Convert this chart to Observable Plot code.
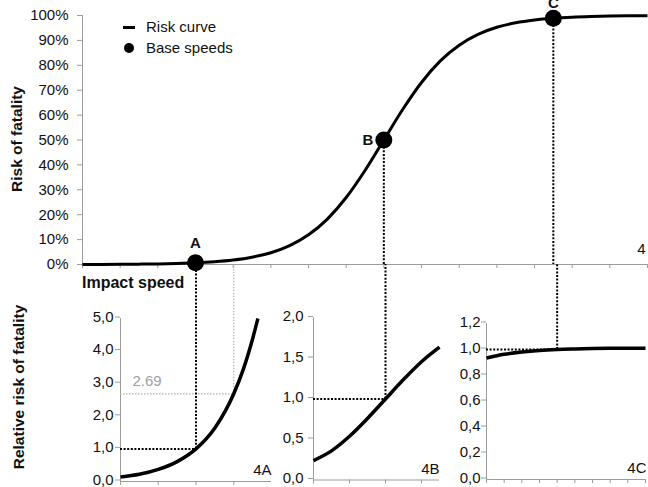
<!DOCTYPE html>
<html><head><meta charset="utf-8">
<script src="https://cdn.jsdelivr.net/npm/d3@7"></script>
<script src="https://cdn.jsdelivr.net/npm/@observablehq/plot@0.6"></script>
<style>
body{margin:0;background:#fff;font-family:"Liberation Sans",Arial,sans-serif;}
#wrap{position:relative;width:648px;height:487px;overflow:hidden;background:#fff;}
.lbl{position:absolute;white-space:nowrap;color:#111;line-height:18px;height:18px;}
.rot{position:absolute;white-space:nowrap;color:#111;font-weight:bold;transform:translate(-50%,-50%) rotate(-90deg);}
</style></head><body>
<div id="wrap"></div>
<script>
// ---- Top panel: risk curve ----
const speeds = [0,5,10,15,20,25,30,35,40,45,50,55,60,65,70,75,80,85,90,95,100,105,110,115,120,125,130,135,140,145,150];
const risk = [0.03,0.05,0.09,0.15,0.25,0.41,0.67,1.10,1.80,2.93,4.74,7.59,11.92,18.24,26.89,37.75,50.00,62.25,73.11,81.76,88.08,92.41,95.26,97.07,98.20,98.90,99.33,99.59,99.75,99.85,99.91];
const baseLabels = ["A","B","C"];
const baseSpeeds = [30,80,125];
const baseRisk = [0.67,50.00,98.90];
const topYTicks = [0,10,20,30,40,50,60,70,80,90,100];
const topXTicks = [0,10,20,30,40,50,60,70,80,90,100,110,120,130,140,150];

// ---- Panel 4A ----
const speedsA = [10,15,20,25,30,35,40,42.5,45,46.4];
const relA = [0.14,0.22,0.37,0.61,1.00,1.64,2.69,3.43,4.38,5.00];
const yTicksA = [0,1,2,3,4,5];
const xTicksA = [10,20,30,40];
const compareSpeedA = 40;
const compareRelA = 2.69;

// ---- Panel 4B ----
const speedsB = [60,65,70,75,80,85,90,95];
const relB = [0.24,0.36,0.54,0.76,1.00,1.24,1.46,1.64];
const yTicksB = [0,0.5,1,1.5,2];
const xTicksB = [60,70,80,90];

// ---- Panel 4C ----
const speedsC = [105,110,115,120,125,130,135,140,145,150];
const relC = [0.935,0.963,0.981,0.993,1.000,1.004,1.007,1.009,1.010,1.010];
const yTicksC = [0,0.2,0.4,0.6,0.8,1,1.2];
const xTicksC = [105,110,115,120,125,130,135,140,145,150];

const GREY = "#9c9c9c";
const FONT = '"Liberation Sans", Arial, sans-serif';
const DOT = "2,1.6";

const wrap = document.getElementById("wrap");
function place(svg, left, top) {
  svg.style.position = "absolute";
  svg.style.left = left + "px";
  svg.style.top = top + "px";
  svg.style.maxWidth = "none";
  wrap.appendChild(svg);
}

const topData = speeds.map((v, i) => ({v, r: risk[i]}));
const base = baseSpeeds.map((v, i) => ({v, r: baseRisk[i], label: baseLabels[i]}));

const topPlot = Plot.plot({
  width: 648, height: 272,
  marginLeft: 82, marginRight: 1, marginTop: 15, marginBottom: 8,
  x: {domain: [0, 150]},
  y: {domain: [0, 100]},
  style: {fontFamily: FONT, fontSize: "15px", background: "transparent", color: "#111", overflow: "visible"},
  marks: [
    Plot.axisY({ticks: topYTicks, tickFormat: d => d + "%", tickSize: 5, tickPadding: 9, stroke: GREY, fill: "#111", label: null, fontSize: 15}),
    Plot.axisX({ticks: topXTicks, tickSize: 4, tickFormat: () => "", stroke: GREY, label: null}),
    Plot.ruleX([0], {stroke: GREY}),
    Plot.ruleY([0], {stroke: GREY}),
    Plot.ruleX(base, {x: "v", y1: "r", y2: 0, stroke: "#000", strokeWidth: 2, strokeDasharray: DOT}),
    Plot.line(topData, {x: "v", y: "r", stroke: "#000", strokeWidth: 3, curve: "monotone-x", strokeLinecap: "butt"}),
    Plot.dot(base, {x: "v", y: "r", r: 8.5, fill: "#000"}),
    Plot.text(base.filter(d => d.label === "A"), {x: "v", y: "r", text: "label", dy: -20, fontWeight: "bold", fontSize: 15, fill: "#111"}),
    Plot.text(base.filter(d => d.label === "B"), {x: "v", y: "r", text: "label", dx: -16, fontWeight: "bold", fontSize: 15, fill: "#111"}),
    Plot.text(base.filter(d => d.label === "C"), {x: "v", y: "r", text: "label", dy: -15, fontWeight: "bold", fontSize: 15, fill: "#111"}),
    Plot.text(["4"], {text: d => d, frameAnchor: "bottom-right", lineAnchor: "middle", textAnchor: "end", dy: -15, dx: -2, fontSize: 15, fill: "#111"})
  ]
});
place(topPlot, 0, 0);

const TOP = 264, H = 223;
const fmt = d => d.toFixed(1).replace(".", ",");

function panel(o) {
  const data = o.speeds.map((v, i) => ({v, r: o.rel[i]}));
  const yRange = [o.y0 - TOP, o.yMax - TOP];
  // value of the y scale at the top edge of this panel's svg (where the top chart's axis lies)
  const yEdge = d3.scaleLinear().domain(o.yDomain).range(yRange).invert(0);
  const extra = o.extra ? o.extra(yEdge) : [];
  const marks = [
    Plot.axisY({ticks: o.yTicks, tickFormat: fmt, tickSize: 5, tickPadding: o.tickPadding, stroke: GREY, fill: "#111", label: null, fontSize: 15, dy: -1.5}),
    Plot.axisX({ticks: o.xTicks, tickSize: 4, tickFormat: () => "", stroke: GREY, label: null}),
    Plot.ruleX([o.xDomain[0]], {y1: 0, y2: o.yDomain[1], stroke: GREY}),
    Plot.ruleY([0], {stroke: GREY}),
    ...extra,
    Plot.ruleY([1], {x1: o.xDomain[0], x2: o.refSpeed, stroke: "#000", strokeWidth: 2, strokeDasharray: DOT}),
    Plot.ruleX([o.refSpeed], {y1: 1, y2: yEdge, stroke: "#000", strokeWidth: 2, strokeDasharray: DOT}),
    Plot.line(data, {x: "v", y: "r", stroke: "#000", strokeWidth: 3.5, curve: "monotone-x", strokeLinecap: "butt"}),
    Plot.text([o.name], {text: d => d, frameAnchor: "bottom-right", lineAnchor: "middle", textAnchor: "end", dy: -11, dx: o.nameDx || 0, fontSize: 15, fill: "#111"})
  ];
  const svg = Plot.plot({
    width: o.width, height: H,
    marginLeft: o.marginLeft, marginRight: o.marginRight, marginTop: 0,
    marginBottom: H - (o.y0 - TOP),
    x: {domain: o.xDomain},
    y: {domain: o.yDomain, range: yRange},
    style: {fontFamily: FONT, fontSize: "15px", background: "transparent", color: "#111", overflow: "visible"},
    marks
  });
  place(svg, o.left, TOP);
}

panel({
  name: "4A", left: 70, width: 210, marginLeft: 50, marginRight: 9,
  y0: 481, yMax: 318, xDomain: [10, 50], yDomain: [0, 5],
  xTicks: xTicksA, yTicks: yTicksA, tickPadding: 2,
  speeds: speedsA, rel: relA, refSpeed: 30,
  extra: yEdge => [
    Plot.ruleY([compareRelA], {x1: 10, x2: compareSpeedA, stroke: "#b0b0b0", strokeWidth: 1.2, strokeDasharray: "1.5,1.5"}),
    Plot.ruleX([compareSpeedA], {y1: compareRelA, y2: yEdge, stroke: "#b0b0b0", strokeWidth: 1.2, strokeDasharray: "1.5,1.5"}),
    Plot.text([compareRelA], {x: 10, y: d => d, text: d => d.toFixed(2), dx: 12, dy: -12.5, textAnchor: "start", fill: "#a0a0a0", fontSize: 15})
  ]
});
panel({
  name: "4B", left: 263, width: 180, marginLeft: 50, marginRight: 4,
  y0: 479.5, yMax: 317.5, xDomain: [60, 95], yDomain: [0, 2],
  xTicks: xTicksB, yTicks: yTicksB, tickPadding: 5,
  speeds: speedsB, rel: relB, refSpeed: 80
});
panel({
  name: "4C", left: 436, width: 212, marginLeft: 50, marginRight: 3,
  y0: 479, yMax: 323, xDomain: [105, 150], yDomain: [0, 1.2],
  xTicks: xTicksC, yTicks: yTicksC, tickPadding: 1,
  speeds: speedsC, rel: relC, refSpeed: 125, nameDx: 1
});

// ---- HTML labels ----
function lbl(text, left, cy, css) {
  const d = document.createElement("div");
  d.className = "lbl";
  d.textContent = text;
  d.style.left = left + "px";
  d.style.top = (cy - 9) + "px";
  Object.assign(d.style, css || {});
  wrap.appendChild(d);
  return d;
}
function rot(text, cx, cy, size) {
  const d = document.createElement("div");
  d.className = "rot";
  d.textContent = text;
  d.style.left = cx + "px";
  d.style.top = cy + "px";
  d.style.fontSize = size + "px";
  wrap.appendChild(d);
}
function box(left, top, w, h, radius) {
  const d = document.createElement("div");
  Object.assign(d.style, {position: "absolute", left: left + "px", top: top + "px", width: w + "px", height: h + "px", background: "#000", borderRadius: radius || "0"});
  wrap.appendChild(d);
}
// legend
box(123, 26.3, 12, 3);
lbl("Risk curve", 146, 27, {fontSize: "15px"});
box(124, 43, 10, 10, "50%");
lbl("Base speeds", 146, 48, {fontSize: "15px"});
// titles
lbl("Impact speed", 82, 283, {fontSize: "16px", fontWeight: "bold"});
rot("Risk of fatality", 16.5, 139, 15.5);
rot("Relative risk of fatality", 19, 386.5, 15.5);
</script>
</body></html>
